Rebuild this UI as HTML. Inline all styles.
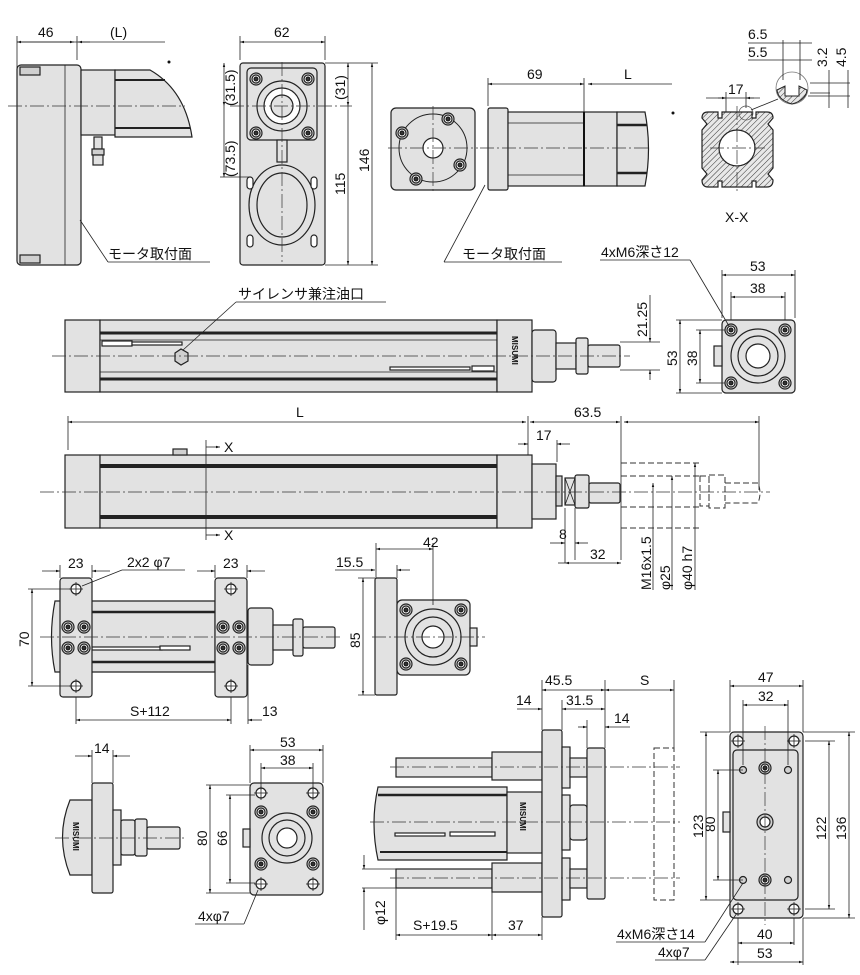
<!DOCTYPE html>
<html><head><meta charset="utf-8"><style>
html,body{margin:0;padding:0;background:#fff}
svg{display:block}
text{font-family:"Liberation Sans","Noto Sans CJK JP",sans-serif;font-size:14px;fill:#111}
.o{fill:#e2e2e2;stroke:#222;stroke-width:1.2}
.d{fill:#d0d0d0;stroke:#222;stroke-width:1.2}
.w{fill:#fff;stroke:#222;stroke-width:1.2}
.k{fill:#333;stroke:#111}
.l{fill:none;stroke:#222;stroke-width:0.8}
.c{fill:none;stroke:#333;stroke-width:0.7;stroke-dasharray:14 3 2 3}
.ph{fill:none;stroke:#333;stroke-width:1;stroke-dasharray:6 3}
</style></head><body>
<svg width="860" height="975" viewBox="0 0 860 975" xmlns="http://www.w3.org/2000/svg">
<defs>
<marker id="a" viewBox="0 0 10 10" refX="10" refY="5" markerWidth="7" markerHeight="5" orient="auto-start-reverse"><path d="M0,2 L10,5 L0,8z" fill="#111"/></marker>
<pattern id="h" width="4" height="4" patternUnits="userSpaceOnUse" patternTransform="rotate(45)"><rect width="4" height="4" fill="#e8e8e8"/><line x1="0" y1="0" x2="0" y2="4" stroke="#333" stroke-width="1"/></pattern>
<g id="bolt"><circle r="6" class="d"/><circle r="4" class="w"/><circle r="2" class="k"/></g>
<g id="hole"><circle r="5" class="w"/><line x1="-7" x2="7" class="l"/><line y1="-7" y2="7" class="l"/></g>
</defs>

<!-- ===== TOP LEFT motor side ===== -->
<line x1="17" y1="42" x2="165" y2="42" class="l" marker-start="url(#a)"/>
<line x1="17" y1="42" x2="74" y2="42" class="l" marker-end="url(#a)"/>
<line x1="78" y1="42" x2="90" y2="42" class="l" marker-start="url(#a)"/>
<line x1="17" y1="36" x2="17" y2="100" class="l"/><line x1="77" y1="36" x2="77" y2="60" class="l"/>
<text x="38" y="37">46</text><text x="110" y="37">(L)</text>
<circle cx="169" cy="62" r="1.5" fill="#111"/>
<rect x="17" y="65" width="64" height="200" rx="4" class="o"/>
<line x1="65" y1="65" x2="65" y2="265" class="l" stroke-width="1.2"/>
<rect x="20" y="67" width="20" height="8" class="d"/><rect x="20" y="255" width="20" height="8" class="d"/>
<rect x="81" y="70" width="34" height="65" class="o"/>
<path d="M115,70 L150,70 Q185,90 192,137 L115,137z" class="o"/>
<line x1="115" y1="80" x2="165" y2="80" stroke="#222" stroke-width="2"/>
<line x1="115" y1="128" x2="190" y2="128" stroke="#222" stroke-width="2"/>
<rect x="94" y="137" width="8" height="12" class="o"/><rect x="92" y="149" width="12" height="6" class="d"/><rect x="93" y="155" width="10" height="10" class="o"/>
<line x1="8" y1="106" x2="185" y2="106" class="c"/>
<line x1="80" y1="220" x2="108" y2="262" class="l"/><line x1="108" y1="262" x2="210" y2="262" class="l"/>
<text x="108" y="259">モータ取付面</text>

<!-- ===== TOP plate view ===== -->
<line x1="240" y1="42" x2="325" y2="42" class="l" marker-start="url(#a)" marker-end="url(#a)"/>
<line x1="240" y1="36" x2="240" y2="60" class="l"/><line x1="325" y1="36" x2="325" y2="60" class="l"/>
<text x="274" y="37">62</text>
<rect x="240" y="63" width="85" height="202" rx="3" class="o"/>
<rect x="247" y="68" width="70" height="72" rx="4" class="o"/>
<circle cx="282" cy="106" r="25" class="o"/><circle cx="282" cy="106" r="18" class="w"/><circle cx="282" cy="106" r="11" class="o"/>
<use href="#bolt" x="256" y="79"/><use href="#bolt" x="308" y="79"/><use href="#bolt" x="256" y="133"/><use href="#bolt" x="308" y="133"/>
<rect x="277" y="140" width="10" height="22" class="o"/>
<ellipse cx="282" cy="205" rx="33" ry="40" class="o"/><ellipse cx="282" cy="205" rx="25" ry="32" class="o"/>
<rect x="247" y="177" width="6" height="12" rx="3" class="w"/><rect x="311" y="177" width="6" height="12" rx="3" class="w"/>
<rect x="247" y="235" width="6" height="12" rx="3" class="w"/><rect x="311" y="235" width="6" height="12" rx="3" class="w"/>
<line x1="282" y1="62" x2="282" y2="262" class="c"/><line x1="230" y1="106" x2="352" y2="106" class="c"/>
<line x1="224" y1="63" x2="224" y2="106" class="l" marker-start="url(#a)" marker-end="url(#a)"/>
<line x1="224" y1="106" x2="224" y2="177" class="l" marker-end="url(#a)"/>
<line x1="220" y1="177" x2="250" y2="177" class="l"/>
<text transform="translate(235,106) rotate(-90)">(31.5)</text>
<text transform="translate(235,177) rotate(-90)">(73.5)</text>
<line x1="348" y1="63" x2="348" y2="106" class="l" marker-start="url(#a)" marker-end="url(#a)"/>
<line x1="348" y1="106" x2="348" y2="265" class="l" marker-end="url(#a)"/>
<line x1="372" y1="63" x2="372" y2="265" class="l" marker-start="url(#a)" marker-end="url(#a)"/>
<line x1="325" y1="63" x2="378" y2="63" class="l"/><line x1="325" y1="265" x2="378" y2="265" class="l"/>
<text transform="translate(345,100) rotate(-90)">(31)</text>
<text transform="translate(345,195) rotate(-90)">115</text>
<text transform="translate(369,172) rotate(-90)">146</text>

<!-- ===== TOP RIGHT motor ===== -->
<rect x="391" y="108" width="84" height="82" rx="5" class="o"/>
<circle cx="433" cy="148" r="34" fill="none" stroke="#222"/>
<circle cx="433" cy="148" r="10" class="w"/>
<use href="#bolt" x="402" y="133"/><use href="#bolt" x="448" y="119"/><use href="#bolt" x="460" y="165"/><use href="#bolt" x="416" y="179"/>
<line x1="388" y1="148" x2="478" y2="148" class="c"/><line x1="433" y1="106" x2="433" y2="192" class="c"/>
<rect x="488" y="108" width="20" height="82" rx="2" class="o"/>
<rect x="508" y="112" width="76" height="74" class="o"/>
<line x1="508" y1="123" x2="584" y2="123" class="l"/><line x1="508" y1="175" x2="584" y2="175" class="l"/>
<rect x="584" y="112" width="33" height="74" class="o"/><line x1="584" y1="112" x2="584" y2="186" stroke="#111" stroke-width="2"/>
<path d="M617,112 L645,112 Q652,149 645,186 L617,186z" class="o"/>
<line x1="617" y1="125" x2="647" y2="125" stroke="#222" stroke-width="2.5"/><line x1="617" y1="173" x2="647" y2="173" stroke="#222" stroke-width="2.5"/>
<line x1="480" y1="148" x2="650" y2="148" class="c"/>
<line x1="488" y1="84" x2="584" y2="84" class="l" marker-start="url(#a)" marker-end="url(#a)"/>
<line x1="588" y1="84" x2="672" y2="84" class="l" marker-start="url(#a)"/>
<line x1="488" y1="78" x2="488" y2="106" class="l"/><line x1="584" y1="78" x2="584" y2="112" class="l"/>
<text x="527" y="79">69</text><text x="624" y="79">L</text>
<circle cx="673" cy="113" r="1.5" fill="#111"/>
<line x1="485" y1="185" x2="444" y2="262" class="l"/><line x1="444" y1="262" x2="562" y2="262" class="l"/>
<text x="462" y="259">モータ取付面</text>

<!-- X-X section -->
<path d="M708,112 L718,112 L718,118 L722,118 L722,112 L752,112 L752,118 L756,118 L756,112 L767,112 Q773,112 773,118 L768,124 L773,130 L773,168 L768,174 L773,180 Q773,187 767,187 L756,187 L756,181 L752,181 L752,187 L722,187 L722,181 L718,181 L718,187 L708,187 Q702,187 702,180 L707,174 L702,168 L702,130 L707,124 L702,118 Q702,112 708,112z" fill="url(#h)" stroke="#222" stroke-width="1.2"/>
<circle cx="737" cy="148" r="18" fill="#fff" stroke="#222" stroke-width="1.2"/>
<line x1="737" y1="106" x2="737" y2="192" class="c"/><line x1="710" y1="148" x2="765" y2="148" class="c"/>
<circle cx="746" cy="113" r="7" fill="none" stroke="#555" stroke-width="0.7"/>
<line x1="751" y1="110" x2="778" y2="99" class="l"/>
<circle cx="792" cy="88" r="16" fill="#fff" stroke="#777" stroke-width="0.8"/>
<path d="M777,90 L785,86 L785,96 L799,96 L799,86 L807,90 Q806,100 792,104 Q778,100 777,90z" fill="url(#h)" stroke="#222"/>
<line x1="706" y1="98" x2="760" y2="98" class="l"/>
<line x1="718" y1="98" x2="726" y2="98" class="l" marker-end="url(#a)"/><line x1="746" y1="98" x2="754" y2="98" class="l" marker-start="url(#a)"/>
<line x1="726" y1="92" x2="726" y2="112" class="l"/><line x1="746" y1="92" x2="746" y2="108" class="l"/>
<text x="728" y="94">17</text>
<text x="748" y="39">6.5</text><text x="748" y="57">5.5</text>
<line x1="748" y1="43" x2="812" y2="43" class="l"/><line x1="748" y1="60" x2="812" y2="60" class="l"/>
<line x1="783" y1="40" x2="783" y2="80" class="l"/><line x1="800" y1="40" x2="800" y2="80" class="l"/>
<line x1="810" y1="83" x2="850" y2="83" class="l"/><line x1="810" y1="93" x2="830" y2="93" class="l"/><line x1="808" y1="96" x2="850" y2="96" class="l"/>
<line x1="829" y1="70" x2="829" y2="108" class="l"/><line x1="848" y1="70" x2="848" y2="108" class="l"/>
<text transform="translate(827,67) rotate(-90)">3.2</text>
<text transform="translate(846,67) rotate(-90)">4.5</text>
<text x="725" y="222">X-X</text>

<!-- ===== SIDE VIEW 1 ===== -->
<rect x="65" y="320" width="35" height="72" class="o"/>
<rect x="100" y="320" width="397" height="72" class="o"/>
<line x1="100" y1="333" x2="497" y2="333" stroke="#222" stroke-width="3"/>
<line x1="100" y1="379" x2="497" y2="379" stroke="#222" stroke-width="3"/>
<line x1="100" y1="340" x2="497" y2="340" class="l"/><line x1="100" y1="372" x2="497" y2="372" class="l"/>
<rect x="102" y="341" width="30" height="5" class="w"/><rect x="132" y="342" width="50" height="3" class="w"/>
<rect x="390" y="367" width="80" height="3" class="w"/><rect x="472" y="366" width="22" height="5" class="w"/>
<polygon points="175,353 181,349 188,353 188,361 181,365 175,361" class="d"/>
<rect x="497" y="320" width="35" height="72" class="o"/>
<text transform="translate(512,336) rotate(90)" style="font-size:8px;font-weight:bold">MISUMI</text>
<rect x="532" y="330" width="24" height="52" rx="3" class="o"/>
<rect x="556" y="343" width="20" height="26" class="o"/>
<rect x="576" y="338" width="12" height="36" rx="2" class="o"/>
<rect x="588" y="345" width="32" height="22" rx="2" class="o"/>
<line x1="52" y1="356" x2="630" y2="356" class="c"/>
<line x1="183" y1="350" x2="236" y2="302" class="l"/><line x1="236" y1="302" x2="386" y2="302" class="l"/>
<text x="238" y="299">サイレンサ兼注油口</text>
<line x1="620" y1="342" x2="660" y2="342" class="l"/><line x1="620" y1="370" x2="660" y2="370" class="l"/>
<line x1="650" y1="295" x2="650" y2="342" class="l" marker-end="url(#a)"/><line x1="650" y1="370" x2="650" y2="380" class="l" marker-start="url(#a)"/>
<text transform="translate(647,337) rotate(-90)">21.25</text>

<!-- end view 1 -->
<rect x="722" y="320" width="73" height="73" rx="4" class="o"/>
<circle cx="758" cy="356" r="27" class="o"/><circle cx="758" cy="356" r="20" class="o"/><circle cx="758" cy="356" r="12" class="w"/>
<use href="#bolt" x="731" y="330"/><use href="#bolt" x="785" y="330"/><use href="#bolt" x="731" y="383"/><use href="#bolt" x="785" y="383"/>
<rect x="714" y="346" width="8" height="20" class="o"/>
<line x1="722" y1="275" x2="795" y2="275" class="l" marker-start="url(#a)" marker-end="url(#a)"/>
<line x1="731" y1="297" x2="785" y2="297" class="l" marker-start="url(#a)" marker-end="url(#a)"/>
<line x1="722" y1="270" x2="722" y2="318" class="l"/><line x1="795" y1="270" x2="795" y2="318" class="l"/>
<line x1="731" y1="292" x2="731" y2="320" class="l"/><line x1="785" y1="292" x2="785" y2="320" class="l"/>
<text x="750" y="271">53</text><text x="750" y="293">38</text>
<line x1="680" y1="320" x2="680" y2="393" class="l" marker-start="url(#a)" marker-end="url(#a)"/>
<line x1="700" y1="330" x2="700" y2="383" class="l" marker-start="url(#a)" marker-end="url(#a)"/>
<line x1="676" y1="320" x2="722" y2="320" class="l"/><line x1="676" y1="393" x2="722" y2="393" class="l"/>
<line x1="696" y1="330" x2="725" y2="330" class="l"/><line x1="696" y1="383" x2="725" y2="383" class="l"/>
<text transform="translate(677,366) rotate(-90)">53</text><text transform="translate(697,366) rotate(-90)">38</text>
<line x1="600" y1="260" x2="690" y2="260" class="l"/><line x1="690" y1="260" x2="729" y2="326" class="l"/>
<text x="601" y="257">4xM6深さ12</text>

<!-- ===== SIDE VIEW 2 ===== -->
<line x1="68" y1="422" x2="526" y2="422" class="l" marker-start="url(#a)" marker-end="url(#a)"/>
<line x1="530" y1="422" x2="620" y2="422" class="l" marker-start="url(#a)" marker-end="url(#a)"/>
<line x1="624" y1="422" x2="759" y2="422" class="l" marker-start="url(#a)" marker-end="url(#a)"/>
<line x1="68" y1="416" x2="68" y2="450" class="l"/><line x1="528" y1="416" x2="528" y2="455" class="l"/>
<line x1="621" y1="416" x2="621" y2="560" class="l"/><line x1="759" y1="416" x2="759" y2="490" class="l"/>
<text x="296" y="417">L</text><text x="574" y="417">63.5</text>
<line x1="518" y1="444" x2="528" y2="444" class="l" marker-end="url(#a)"/><line x1="557" y1="444" x2="570" y2="444" class="l" marker-start="url(#a)"/>
<line x1="557" y1="440" x2="557" y2="462" class="l"/>
<text x="536" y="440">17</text>
<rect x="65" y="455" width="35" height="73" class="o"/>
<rect x="100" y="455" width="397" height="73" class="o"/>
<line x1="100" y1="466" x2="497" y2="466" stroke="#222" stroke-width="4"/>
<line x1="100" y1="517" x2="497" y2="517" stroke="#222" stroke-width="4"/>
<rect x="497" y="455" width="35" height="73" class="o"/>
<rect x="532" y="464" width="24" height="55" class="o"/>
<rect x="173" y="449" width="14" height="6" class="d"/>
<rect x="556" y="476" width="6" height="30" class="d"/>
<rect x="565" y="478" width="10" height="27" class="o"/><path d="M565,478 L575,505 M575,478 L565,505" class="l"/>
<rect x="575" y="475" width="14" height="33" rx="2" class="o"/>
<rect x="589" y="483" width="31" height="20" rx="2" class="o"/>
<path d="M621,463 L700,463 M621,528 L700,528 M621,476 L700,476 M621,507 L700,507" class="ph"/>
<rect x="700" y="476" width="9" height="30" class="ph"/><rect x="709" y="475" width="16" height="33" class="ph"/>
<path d="M725,483 L758,483 Q762,493 758,503 L725,503" class="ph"/>
<line x1="40" y1="492" x2="770" y2="492" class="c"/>
<line x1="206" y1="440" x2="206" y2="540" class="l"/>
<line x1="206" y1="447" x2="220" y2="447" class="l" marker-end="url(#a)"/><line x1="206" y1="535" x2="220" y2="535" class="l" marker-end="url(#a)"/>
<text x="224" y="452">X</text><text x="224" y="540">X</text>
<line x1="565" y1="508" x2="565" y2="563" class="l"/><line x1="575" y1="508" x2="575" y2="560" class="l"/>
<line x1="550" y1="543" x2="565" y2="543" class="l" marker-end="url(#a)"/><line x1="575" y1="543" x2="588" y2="543" class="l" marker-start="url(#a)"/>
<text x="559" y="539">8</text>
<line x1="558" y1="563" x2="565" y2="563" class="l"/>
<line x1="565" y1="563" x2="621" y2="563" class="l" marker-start="url(#a)" marker-end="url(#a)"/>
<text x="590" y="559">32</text>
<line x1="653" y1="483" x2="653" y2="590" class="l" marker-start="url(#a)"/>
<line x1="672" y1="476" x2="672" y2="590" class="l" marker-start="url(#a)"/>
<line x1="695" y1="463" x2="695" y2="590" class="l" marker-start="url(#a)"/>
<text transform="translate(651,590) rotate(-90)">M16x1.5</text>
<text transform="translate(670,590) rotate(-90)">φ25</text>
<text transform="translate(692,590) rotate(-90)">φ40 h7</text>

<!-- ===== FOOT MOUNT ===== -->
<path d="M55,601 L215,601 L215,672 L55,672 Q48,637 55,601z" class="o"/>
<line x1="92" y1="612" x2="215" y2="612" stroke="#222" stroke-width="2.5"/><line x1="92" y1="662" x2="215" y2="662" stroke="#222" stroke-width="2.5"/>
<rect x="92" y="647" width="70" height="3" class="w"/><rect x="160" y="646" width="30" height="4" class="w"/>
<rect x="60" y="578" width="32" height="119" rx="3" class="o"/>
<rect x="215" y="578" width="32" height="119" rx="3" class="o"/>
<use href="#hole" x="76" y="589"/><use href="#hole" x="76" y="686"/><use href="#hole" x="231" y="589"/><use href="#hole" x="231" y="686"/>
<use href="#bolt" x="68" y="627"/><use href="#bolt" x="84" y="627"/><use href="#bolt" x="68" y="648"/><use href="#bolt" x="84" y="648"/>
<use href="#bolt" x="223" y="627"/><use href="#bolt" x="239" y="627"/><use href="#bolt" x="223" y="648"/><use href="#bolt" x="239" y="648"/>
<rect x="248" y="608" width="25" height="57" rx="3" class="o"/>
<rect x="273" y="625" width="20" height="25" class="o"/>
<rect x="293" y="619" width="10" height="37" rx="2" class="o"/>
<rect x="303" y="627" width="32" height="21" rx="2" class="o"/>
<line x1="40" y1="637" x2="340" y2="637" class="c"/>
<line x1="42" y1="571" x2="60" y2="571" class="l" marker-end="url(#a)"/><line x1="92" y1="571" x2="110" y2="571" class="l" marker-start="url(#a)"/>
<line x1="60" y1="565" x2="60" y2="578" class="l"/><line x1="92" y1="565" x2="92" y2="578" class="l"/>
<text x="68" y="568">23</text>
<line x1="197" y1="571" x2="215" y2="571" class="l" marker-end="url(#a)"/><line x1="247" y1="571" x2="265" y2="571" class="l" marker-start="url(#a)"/>
<line x1="215" y1="565" x2="215" y2="578" class="l"/><line x1="247" y1="565" x2="247" y2="578" class="l"/>
<text x="223" y="568">23</text>
<line x1="82" y1="586" x2="122" y2="570" class="l"/><line x1="122" y1="570" x2="185" y2="570" class="l"/>
<text x="127" y="567">2x2 φ7</text>
<line x1="32" y1="589" x2="32" y2="686" class="l" marker-start="url(#a)" marker-end="url(#a)"/>
<line x1="28" y1="589" x2="70" y2="589" class="l"/><line x1="28" y1="686" x2="70" y2="686" class="l"/>
<text transform="translate(29,647) rotate(-90)">70</text>
<line x1="76" y1="697" x2="76" y2="724" class="l"/><line x1="231" y1="697" x2="231" y2="724" class="l"/><line x1="248" y1="665" x2="248" y2="724" class="l"/>
<line x1="76" y1="720" x2="231" y2="720" class="l" marker-start="url(#a)" marker-end="url(#a)"/>
<line x1="248" y1="720" x2="262" y2="720" class="l" marker-start="url(#a)"/>
<text x="130" y="716">S+112</text><text x="262" y="716">13</text>

<!-- ===== FLANGE VIEW ===== -->
<rect x="375" y="578" width="22" height="117" rx="2" class="o"/>
<rect x="397" y="600" width="73" height="75" rx="5" class="o"/>
<circle cx="433" cy="637" r="28" class="o"/><circle cx="433" cy="637" r="20" class="o"/><circle cx="433" cy="637" r="11" class="w"/>
<use href="#bolt" x="406" y="610"/><use href="#bolt" x="461" y="610"/><use href="#bolt" x="406" y="664"/><use href="#bolt" x="461" y="664"/>
<rect x="470" y="628" width="7" height="18" class="o"/>
<line x1="372" y1="637" x2="485" y2="637" class="c"/>
<line x1="376" y1="549" x2="433" y2="549" class="l" marker-start="url(#a)" marker-end="url(#a)"/>
<line x1="376" y1="543" x2="376" y2="578" class="l"/><line x1="433" y1="543" x2="433" y2="605" class="l"/>
<text x="423" y="547">42</text>
<line x1="335" y1="570" x2="375" y2="570" class="l" marker-end="url(#a)"/><line x1="397" y1="570" x2="410" y2="570" class="l" marker-start="url(#a)"/>
<line x1="397" y1="565" x2="397" y2="578" class="l"/>
<text x="336" y="567">15.5</text>
<line x1="363" y1="578" x2="363" y2="695" class="l" marker-start="url(#a)" marker-end="url(#a)"/>
<line x1="358" y1="578" x2="375" y2="578" class="l"/><line x1="358" y1="695" x2="375" y2="695" class="l"/>
<text transform="translate(360,648) rotate(-90)">85</text>

<!-- ===== BOTTOM small view ===== -->
<path d="M92,800 L70,800 Q55,837 70,875 L92,875z" class="o"/>
<text transform="translate(73,822) rotate(90)" style="font-size:8px;font-weight:bold">MISUMI</text>
<rect x="92" y="783" width="21" height="110" rx="2" class="o"/>
<rect x="113" y="810" width="8" height="55" class="o"/>
<rect x="121" y="820" width="14" height="35" rx="2" class="o"/>
<rect x="135" y="819" width="12" height="37" rx="2" class="o"/>
<rect x="147" y="827" width="33" height="22" rx="2" class="o"/>
<line x1="55" y1="838" x2="185" y2="838" class="c"/>
<line x1="75" y1="756" x2="92" y2="756" class="l" marker-end="url(#a)"/><line x1="113" y1="756" x2="130" y2="756" class="l" marker-start="url(#a)"/>
<line x1="92" y1="750" x2="92" y2="783" class="l"/><line x1="113" y1="750" x2="113" y2="783" class="l"/>
<text x="94" y="753">14</text>

<!-- bottom end view -->
<rect x="250" y="783" width="73" height="112" rx="4" class="o"/>
<circle cx="287" cy="838" r="25" class="o"/><circle cx="287" cy="838" r="18" class="o"/><circle cx="287" cy="838" r="10" class="w"/>
<use href="#hole" x="261" y="793"/><use href="#hole" x="313" y="793"/><use href="#hole" x="261" y="884"/><use href="#hole" x="313" y="884"/>
<use href="#bolt" x="261" y="812"/><use href="#bolt" x="313" y="812"/><use href="#bolt" x="261" y="864"/><use href="#bolt" x="313" y="864"/>
<rect x="243" y="829" width="7" height="18" class="o"/>
<line x1="250" y1="750" x2="323" y2="750" class="l" marker-start="url(#a)" marker-end="url(#a)"/>
<line x1="261" y1="768" x2="313" y2="768" class="l" marker-start="url(#a)" marker-end="url(#a)"/>
<line x1="250" y1="745" x2="250" y2="783" class="l"/><line x1="323" y1="745" x2="323" y2="783" class="l"/>
<line x1="261" y1="763" x2="261" y2="790" class="l"/><line x1="313" y1="763" x2="313" y2="790" class="l"/>
<text x="280" y="747">53</text><text x="280" y="765">38</text>
<line x1="210" y1="785" x2="210" y2="893" class="l" marker-start="url(#a)" marker-end="url(#a)"/>
<line x1="230" y1="795" x2="230" y2="883" class="l" marker-start="url(#a)" marker-end="url(#a)"/>
<line x1="206" y1="785" x2="250" y2="785" class="l"/><line x1="206" y1="893" x2="250" y2="893" class="l"/>
<line x1="226" y1="795" x2="255" y2="795" class="l"/><line x1="226" y1="883" x2="255" y2="883" class="l"/>
<text transform="translate(207,846) rotate(-90)">80</text><text transform="translate(227,846) rotate(-90)">66</text>
<line x1="258" y1="890" x2="244" y2="924" class="l"/><line x1="195" y1="924" x2="244" y2="924" class="l"/>
<text x="198" y="921">4xφ7</text>

<!-- ===== BIG guide view ===== -->
<path d="M507,787 L378,787 Q370,823 378,860 L507,860z" class="o"/>
<line x1="378" y1="795" x2="507" y2="795" stroke="#222" stroke-width="2.5"/>
<line x1="380" y1="852" x2="507" y2="852" stroke="#222" stroke-width="2"/>
<rect x="395" y="833" width="50" height="3" class="w"/><rect x="450" y="832" width="45" height="4" class="w"/>
<rect x="507" y="792" width="35" height="61" class="o"/>
<text transform="translate(520,802) rotate(90)" style="font-size:8px;font-weight:bold">MISUMI</text>
<rect x="396" y="758" width="96" height="19" class="o"/><rect x="492" y="752" width="50" height="28" class="o"/>
<rect x="396" y="869" width="96" height="19" class="o"/><rect x="492" y="863" width="50" height="29" class="o"/>
<rect x="542" y="730" width="20" height="187" rx="2" class="o"/>
<rect x="562" y="747" width="8" height="41" class="o"/><rect x="562" y="858" width="8" height="42" class="o"/>
<rect x="570" y="758" width="17" height="19" class="o"/><rect x="570" y="869" width="17" height="19" class="o"/>
<rect x="562" y="795" width="8" height="55" class="o"/><rect x="570" y="805" width="17" height="35" rx="3" class="o"/>
<rect x="587" y="748" width="18" height="151" rx="2" class="o"/>
<rect x="654" y="748" width="20" height="152" class="ph"/>
<line x1="390" y1="767" x2="680" y2="767" class="c"/><line x1="370" y1="822" x2="680" y2="822" class="c"/><line x1="390" y1="878" x2="680" y2="878" class="c"/>
<line x1="542" y1="680" x2="542" y2="730" class="l"/><line x1="605" y1="680" x2="605" y2="748" class="l"/><line x1="674" y1="680" x2="674" y2="748" class="l"/>
<line x1="562" y1="700" x2="562" y2="730" class="l"/><line x1="587" y1="720" x2="587" y2="748" class="l"/>
<line x1="542" y1="690" x2="605" y2="690" class="l" marker-start="url(#a)" marker-end="url(#a)"/>
<line x1="605" y1="690" x2="674" y2="690" class="l" marker-start="url(#a)" marker-end="url(#a)"/>
<text x="545" y="685">45.5</text><text x="640" y="685">S</text>
<line x1="517" y1="709" x2="542" y2="709" class="l" marker-end="url(#a)"/><line x1="562" y1="709" x2="605" y2="709" class="l" marker-start="url(#a)" marker-end="url(#a)"/>
<text x="516" y="705">14</text><text x="566" y="705">31.5</text>
<line x1="578" y1="727" x2="587" y2="727" class="l" marker-end="url(#a)"/><line x1="605" y1="727" x2="630" y2="727" class="l" marker-start="url(#a)"/>
<text x="614" y="723">14</text>
<line x1="396" y1="880" x2="396" y2="940" class="l"/><line x1="492" y1="888" x2="492" y2="940" class="l"/><line x1="542" y1="917" x2="542" y2="940" class="l"/>
<line x1="396" y1="935" x2="492" y2="935" class="l" marker-start="url(#a)" marker-end="url(#a)"/>
<line x1="492" y1="935" x2="542" y2="935" class="l" marker-start="url(#a)" marker-end="url(#a)"/>
<text x="413" y="930">S+19.5</text><text x="508" y="930">37</text>
<line x1="362" y1="869" x2="396" y2="869" class="l"/><line x1="362" y1="888" x2="396" y2="888" class="l"/>
<line x1="364" y1="855" x2="364" y2="869" class="l" marker-end="url(#a)"/><line x1="364" y1="888" x2="364" y2="930" class="l" marker-start="url(#a)"/>
<text transform="translate(385,925) rotate(-90)">φ12</text>

<!-- right end view -->
<rect x="730" y="732" width="73" height="186" rx="4" class="o"/>
<rect x="733" y="750" width="65" height="150" rx="4" class="o"/>
<use href="#hole" x="738" y="741"/><use href="#hole" x="794" y="741"/><use href="#hole" x="738" y="909"/><use href="#hole" x="794" y="909"/>
<circle cx="743" cy="770" r="3.5" class="d"/><circle cx="788" cy="770" r="3.5" class="d"/><circle cx="743" cy="880" r="3.5" class="d"/><circle cx="788" cy="880" r="3.5" class="d"/>
<use href="#bolt" x="765" y="768"/><use href="#bolt" x="765" y="880"/>
<circle cx="765" cy="822" r="8" class="d"/><circle cx="765" cy="822" r="5" class="w"/>
<rect x="723" y="812" width="7" height="20" class="o"/>
<line x1="765" y1="726" x2="765" y2="925" class="c"/>
<line x1="730" y1="686" x2="803" y2="686" class="l" marker-start="url(#a)" marker-end="url(#a)"/>
<line x1="743" y1="705" x2="788" y2="705" class="l" marker-start="url(#a)" marker-end="url(#a)"/>
<line x1="730" y1="680" x2="730" y2="732" class="l"/><line x1="803" y1="680" x2="803" y2="732" class="l"/>
<line x1="743" y1="700" x2="743" y2="765" class="l"/><line x1="788" y1="700" x2="788" y2="765" class="l"/>
<text x="758" y="682">47</text><text x="758" y="701">32</text>
<line x1="700" y1="732" x2="730" y2="732" class="l"/><line x1="700" y1="900" x2="730" y2="900" class="l"/>
<line x1="706" y1="732" x2="706" y2="900" class="l" marker-start="url(#a)" marker-end="url(#a)"/>
<line x1="713" y1="770" x2="743" y2="770" class="l"/><line x1="713" y1="880" x2="743" y2="880" class="l"/>
<line x1="718" y1="770" x2="718" y2="880" class="l" marker-start="url(#a)" marker-end="url(#a)"/>
<text transform="translate(703,838) rotate(-90)">123</text><text transform="translate(715,832) rotate(-90)">80</text>
<line x1="805" y1="741" x2="835" y2="741" class="l"/><line x1="805" y1="909" x2="835" y2="909" class="l"/>
<line x1="803" y1="732" x2="855" y2="732" class="l"/><line x1="803" y1="918" x2="855" y2="918" class="l"/>
<line x1="829" y1="741" x2="829" y2="909" class="l" marker-start="url(#a)" marker-end="url(#a)"/>
<line x1="849" y1="732" x2="849" y2="918" class="l" marker-start="url(#a)" marker-end="url(#a)"/>
<text transform="translate(826,840) rotate(-90)">122</text><text transform="translate(846,840) rotate(-90)">136</text>
<line x1="738" y1="918" x2="738" y2="965" class="l"/><line x1="794" y1="918" x2="794" y2="945" class="l"/><line x1="803" y1="918" x2="803" y2="965" class="l"/>
<line x1="738" y1="943" x2="794" y2="943" class="l" marker-start="url(#a)" marker-end="url(#a)"/>
<line x1="730" y1="962" x2="803" y2="962" class="l" marker-start="url(#a)" marker-end="url(#a)"/>
<text x="757" y="939">40</text><text x="757" y="958">53</text>
<line x1="743" y1="883" x2="705" y2="942" class="l"/><line x1="616" y1="942" x2="705" y2="942" class="l"/>
<text x="617" y="939">4xM6深さ14</text>
<line x1="737" y1="913" x2="705" y2="960" class="l"/><line x1="655" y1="960" x2="705" y2="960" class="l"/>
<text x="658" y="957">4xφ7</text>
</svg>
</body></html>
